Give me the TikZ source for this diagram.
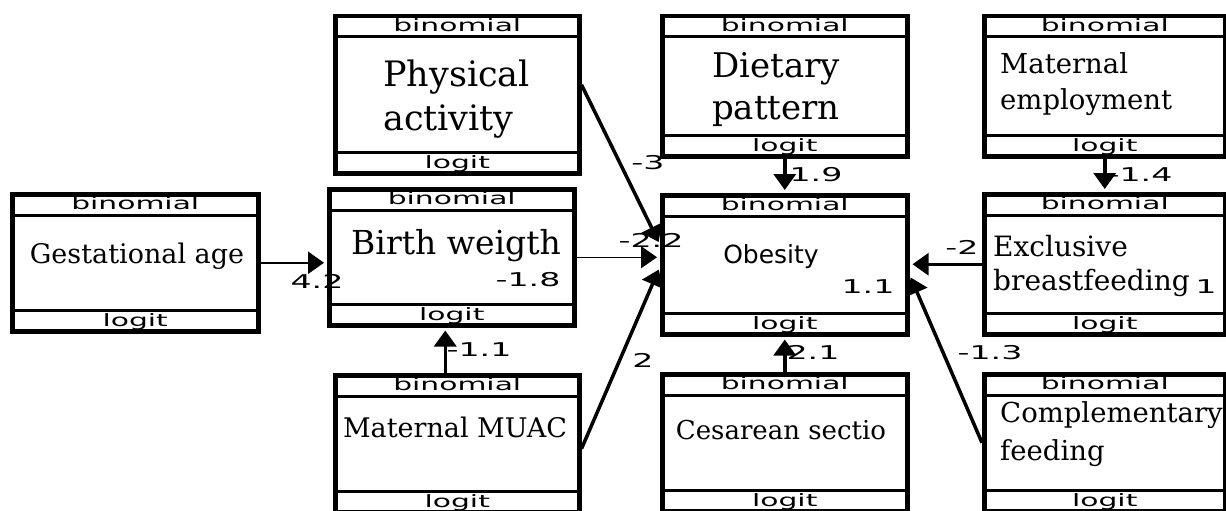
\documentclass[tikz,border=0pt]{standalone}
\usepackage{fontspec}
\setmainfont{DejaVu Serif}
\newfontfamily\tagfont[FakeStretch=1.75]{DejaVu Sans}
\newfontfamily\plainsans{DejaVu Sans}
\usetikzlibrary{arrows.meta}

\tikzset{
  outer/.style={draw, line width=4.5pt, inner sep=0pt},
  sep/.style={line width=3pt},
  tag/.style={inner sep=0pt, font=\tagfont\fontsize{17}{17}\selectfont},
  weight/.style={inner sep=0pt, font=\tagfont\fontsize{19}{19}\selectfont},
  link/.style={line width=3.5pt, -{Triangle[length=16pt,width=22pt]}, shorten >=3pt},
  flat/.style={link, line width=2.5pt},
  lab/.style={inner sep=0pt, anchor=base},
  lablines/.style={inner sep=0pt, anchor=base west, align=left},
}

% box with binomial / logit rows
\newcommand{\varbox}[5]{%
  \node[outer, anchor=north west, minimum width={(#4-#2)*1pt},
        minimum height={(#5-#3)*1pt}] (#1) at (#2,#3) {};
  \draw[sep] ([yshift=-23pt]#1.north west) -- ([yshift=-23pt]#1.north east);
  \draw[sep] ([yshift=23pt]#1.south west) -- ([yshift=23pt]#1.south east);
  \node[tag] (#1-top) at ([yshift=-11.5pt]#1.north) {binomial};
  \node[tag] (#1-bot) at ([yshift=11.5pt]#1.south) {logit};
}

\begin{document}
\begin{tikzpicture}[x=1pt, y=-1pt]
  \useasboundingbox (0,0) rectangle (1226,511);

  % Boites
  \varbox{gest}{10}{192}{256}{329}
  \varbox{birth}{327}{187}{572}{323}
  \varbox{phys}{333}{14}{577}{171}
  \varbox{muac}{333}{373}{577}{510}
  \varbox{diet}{660}{14}{905}{154}
  \varbox{obes}{660}{193}{905}{332}
  \varbox{ces}{660}{372}{905}{509}
  \varbox{memp}{982}{14}{1223}{154}
  \varbox{excl}{982}{192}{1223}{332}
  \varbox{comp}{982}{372}{1223}{509}

  % Textes (base = last line)
  \node[lab, font=\fontsize{27}{34}\selectfont] (gest-txt) at (137,263) {Gestational age};
  \node[lab, font=\fontsize{33}{40}\selectfont] (birth-txt) at (456,254) {Birth weigth};
  \node[lablines, font=\fontsize{35}{44}\selectfont] (phys-txt) at (383,130) {Physical\\activity};
  \node[lab, font=\fontsize{27}{34}\selectfont] (muac-txt) at (455,437) {Maternal MUAC};
  \node[lablines, font=\fontsize{34}{42}\selectfont] (diet-txt) at (712,119) {Dietary\\pattern};
  \node[lab, font=\plainsans\fontsize{25}{30}\selectfont] (obes-txt) at (771,263) {Obesity};
  \node[lab, font=\fontsize{26}{32}\selectfont] (ces-txt) at (781,439) {Cesarean sectio};
  \node[lablines, font=\fontsize{27.5}{36}\selectfont] (memp-txt) at (1000,110) {Maternal\\employment};
  \node[lablines, font=\fontsize{28}{34}\selectfont] (excl-txt) at (993,290) {Exclusive\\breastfeeding};
  \node[lablines, font=\fontsize{27.5}{38}\selectfont] (comp-txt) at (1000,460) {Complementary\\feeding};

  % Liens
  \draw[flat] (gest.east) -- (gest.east -| birth.west);
  \draw[flat, line width=1.5pt] (birth.east) -- (birth.east -| obes.west);
  \draw[link] ([yshift=10pt]phys.east) -- ([yshift=20pt]obes.west);
  \draw[link] ([yshift=-5pt]muac.east) -- ([yshift=-2pt]obes.west);
  \draw[link] ([xshift=-12pt]muac.north) -- ([xshift=-12pt]muac.north |- birth.south);
  \draw[link] (diet.south) -- (obes.north);
  \draw[link] (ces.north) -- (obes.south);
  \draw[link] (memp.south) -- (excl.north);
  \draw[flat] (excl.west) -- (excl.west -| obes.east);
  \draw[link] (comp.west) -- ([yshift=-10pt]obes.east);

  % Coefficients
  \node[weight] (w-gest) at (317,281) {4.2};
  \node[weight] (w-birth) at (651,240) {-2.2};
  \node[weight] (c-birth) at (528,280) {-1.8};
  \node[weight] (w-phys) at (648,163) {-3};
  \node[weight] (w-diet) at (816,175) {1.9};
  \node[weight] (w-memp) at (1140,175) {-1.4};
  \node[weight] (w-excl) at (962,247) {-2};
  \node[weight] (c-obes) at (868,287) {1.1};
  \node[weight] (c-excl) at (1206,287) {1};
  \node[weight] (w-ces) at (813,352) {2.1};
  \node[weight] (w-comp) at (990,353) {-1.3};
  \node[weight] (w-muac) at (643,360) {2};
  \node[weight] (w-muacb) at (479,350) {-1.1};
\end{tikzpicture}
\end{document}
